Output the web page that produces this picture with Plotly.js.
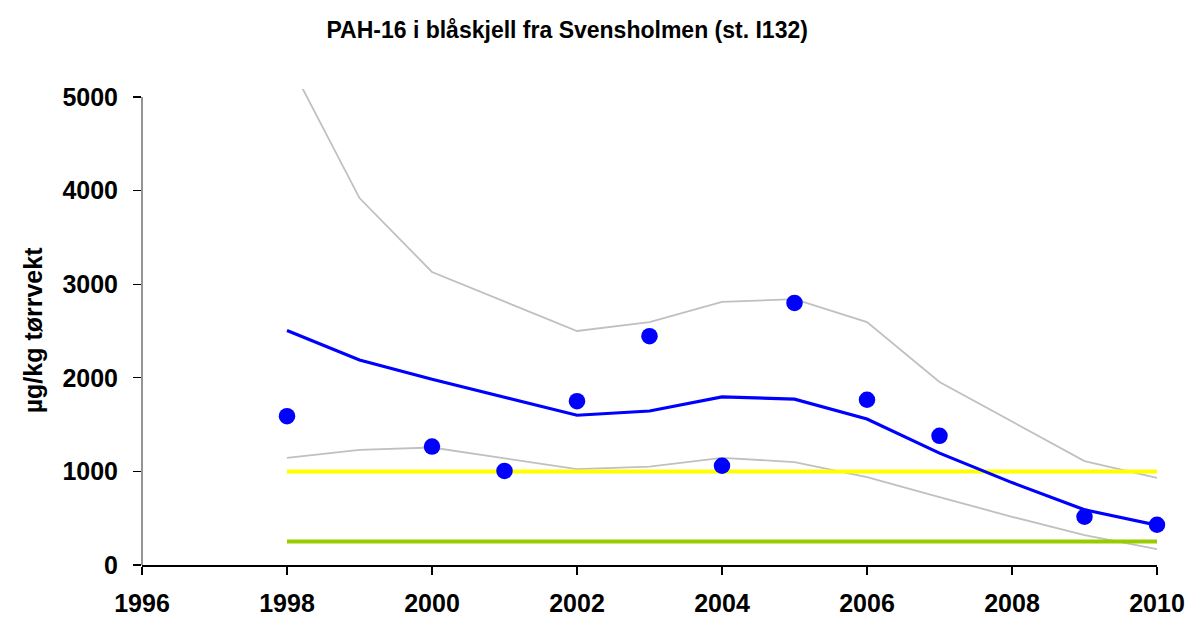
<!DOCTYPE html>
<html>
<head>
<meta charset="utf-8">
<script src="https://cdn.plot.ly/plotly-3.0.1.min.js"></script>
<style>html,body{margin:0;padding:0;background:#fff;}#chart{width:1189px;height:617px;}</style>
</head>
<body>
<div id="chart"></div>
<script>
const years = [1998,1999,2000,2001,2002,2003,2004,2005,2006,2007,2008,2009,2010];
const trend = [2505,2190,1985,1795,1600,1645,1795,1772,1560,1195,880,590,425];
const upper = [5410,3920,3130,2815,2500,2595,2810,2840,2595,1955,1530,1110,930];
const lower = [1145,1230,1255,1140,1025,1050,1145,1100,940,725,515,320,170];
const obsYears = [1998,2000,2001,2002,2003,2004,2005,2006,2007,2009,2010];
const obs = [1590,1265,1005,1750,2445,1060,2800,1765,1380,515,430];
const limitYears = [1998,2010];
const limitHigh = [1000,1000];
const limitLow = [250,250];
const xTicks = [1996,1998,2000,2002,2004,2006,2008,2010];
const yTicks = [0,1000,2000,3000,4000,5000];

const font = 'Liberation Sans, Arial, sans-serif';
const traces = [
  {x: years, y: upper, mode: 'lines', line: {color: '#C0C0C0', width: 1.8}, hoverinfo: 'skip'},
  {x: years, y: lower, mode: 'lines', line: {color: '#C0C0C0', width: 1.8}, hoverinfo: 'skip'},
  {x: limitYears, y: limitHigh, mode: 'lines', line: {color: '#FFFF00', width: 4}},
  {x: limitYears, y: limitLow, mode: 'lines', line: {color: '#99CC00', width: 4}},
  {x: years, y: trend, mode: 'lines', line: {color: '#0000FF', width: 3.2}},
  {x: obsYears, y: obs, mode: 'markers', marker: {color: '#0000FF', size: 16.5}, cliponaxis: false}
];
const layout = {
  width: 1189, height: 617,
  margin: {l: 141.7, r: 32, t: 89, b: 52},
  showlegend: false,
  paper_bgcolor: '#fff', plot_bgcolor: '#fff',
  title: {text: 'PAH-16 i blåskjell fra Svensholmen (st. I132)', font: {family: font, size: 23, color: '#000', weight: 'bold'}, xref: 'container', x: 0.477, xanchor: 'center', yref: 'container', y: 0.951, yanchor: 'middle'},
  xaxis: {range: [1996, 2010], tickvals: xTicks, ticktext: xTicks.map(String), showgrid: false, zeroline: false, showline: true, linecolor: '#000', linewidth: 1.5, ticks: 'outside', ticklen: 8, tickcolor: '#000', tickwidth: 1.3, tickfont: {family: font, size: 25, color: '#000', weight: 'bold'}, ticklabelstandoff: 7},
  yaxis: {range: [0, 5085], tickvals: yTicks, ticktext: yTicks.map(String), showgrid: false, zeroline: false, showline: false, ticks: 'outside', ticklen: 8, tickcolor: '#000', tickwidth: 1.3, tickfont: {family: font, size: 25, color: '#000', weight: 'bold'}, ticklabelstandoff: 10},
  shapes: [{type: 'line', xref: 'paper', yref: 'y', x0: 0, x1: 0, y0: 0, y1: 5000, line: {color: '#707070', width: 1.5}}],
  annotations: [{text: 'µg/kg tørrvekt', textangle: -90, xref: 'paper', yref: 'paper', x: (33 - 141.7) / 1015.3, y: (565 - 330) / 476, xanchor: 'center', yanchor: 'middle', showarrow: false, font: {family: font, size: 25, color: '#000', weight: 'bold'}}]
};
Plotly.newPlot('chart', traces, layout, {staticPlot: true});
</script>
</body>
</html>
